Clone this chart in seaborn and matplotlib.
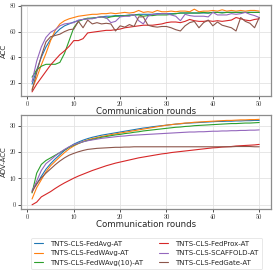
import numpy as np
import pandas as pd
import matplotlib
matplotlib.use("Agg")
import matplotlib.pyplot as plt
import seaborn as sns

rounds = list(range(1, 51))
methods = ["TNTS-CLS-FedAvg-AT", "TNTS-CLS-FedWAvg-AT", "TNTS-CLS-FedWAvg(10)-AT",
           "TNTS-CLS-FedProx-AT", "TNTS-CLS-SCAFFOLD-AT", "TNTS-CLS-FedGate-AT"]
colors = ["#1f77b4", "#ff7f0e", "#2ca02c", "#d62728", "#9467bd", "#8c564b"]

acc_fedavg = [19, 30, 40, 48, 54, 58.5, 62, 64.5, 66, 67.5, 68.5, 69.5, 70, 70.5, 71, 71.5, 72, 72, 72.5, 72.5,
              72.5, 73, 73, 73.5, 73.5, 73.5, 73.5, 74, 74, 74, 74, 74, 74.5, 74.5, 74.5, 74.5, 74.5, 74.5, 74.5, 75,
              75, 75, 75, 75, 75, 75, 75, 75, 75, 75]
acc_fedwavg = [15, 24, 34, 43, 53, 61, 66, 68.5, 70, 71, 72, 72.5, 73, 73.5, 73.5, 74, 74, 74.5, 74, 74.5,
               75, 74.5, 75, 76.5, 75, 75.5, 75, 76.5, 75.5, 75.5, 76, 75.5, 76, 76, 75.5, 77.5, 75.5, 76, 76, 76.5,
               76, 77, 76, 76.5, 76, 76.5, 76, 76.5, 76.5, 76]
acc_fedwavg10 = [24.5, 30, 33, 34.5, 34.5, 34.5, 36, 43, 53, 63, 68, 69.5, 70.5, 70.5, 71, 71.5, 70.5, 71.5, 72, 72,
                 72.5, 72.5, 73, 73, 72, 72.5, 72.5, 73, 73, 73, 73.5, 74, 74.5, 74.5, 74.5, 74.5, 74.5, 75, 74.5, 75,
                 75, 74.5, 75, 75, 75, 75, 75, 75, 75, 75]
acc_fedprox = [13, 19, 24, 29, 34, 38, 42, 45, 48.5, 53, 53, 54.5, 59, 59.5, 60, 60.5, 61, 61, 61.5, 62,
               63, 63.5, 64, 64.5, 65, 65, 65, 65.5, 66, 67, 67.5, 67.5, 67, 68, 69.5, 68.5, 68, 68, 68.5, 68,
               68.5, 68, 68.5, 69, 71, 70, 69, 68.5, 69.5, 70]
acc_scaffold = [21, 37, 48, 55.5, 59.5, 61.5, 64.5, 66, 66.5, 67, 69, 69.5, 70, 70, 71, 71.5, 71, 67, 68, 71.5,
                72, 72, 73.5, 68.5, 66, 72, 73.5, 73.5, 74, 74, 73, 72, 68.5, 73.5, 72.5, 72, 72, 72, 71.5, 75,
                73, 73, 73, 74, 73.5, 74, 75, 73.5, 72.5, 71]
acc_fedgate = [14, 28, 41, 52, 56, 57, 58, 60, 61.5, 62, 68, 63, 69, 66, 67, 66, 66.5, 66, 60.5, 64.5,
               63.5, 65.5, 64, 71.5, 71.5, 65, 64, 63.5, 64, 64, 63, 61.5, 60.5, 64.5, 67, 68, 63, 67, 69, 64.5,
               67.5, 65, 64, 63, 60.5, 71, 68, 66.5, 63, 71]

adv_fedavg = [5.5, 7.8, 10.8, 13.5, 15.6, 17.4, 19, 20.6, 21.9, 23, 23.8, 24.5, 25.1, 25.6, 26, 26.4, 26.7, 27, 27.3, 27.6,
              27.9, 28.2, 28.5, 28.8, 29.1, 29.3, 29.6, 29.8, 30, 30.2, 30.4, 30.6, 30.7, 30.9, 31, 31.1, 31.2, 31.3, 31.4, 31.5,
              31.6, 31.6, 31.7, 31.7, 31.8, 31.8, 31.9, 31.9, 32, 32]
adv_fedwavg = [2.2, 6.5, 9.5, 12.5, 14.8, 16.5, 18.2, 19.8, 21.2, 22.3, 23.2, 24, 24.6, 25.1, 25.5, 25.9, 26.2, 26.6, 26.9, 27.2,
               27.5, 27.8, 28.1, 28.4, 28.7, 29, 29.3, 29.6, 29.9, 30.2, 30.4, 30.6, 30.8, 31, 31.1, 31.3, 31.4, 31.5, 31.6, 31.7,
               31.8, 31.9, 32, 32, 32.1, 32.2, 32.2, 32.3, 32.3, 32.4]
adv_fedwavg10 = [4.5, 12, 15.3, 16.8, 17.8, 18.8, 19.8, 20.8, 21.8, 22.6, 23.3, 23.9, 24.4, 24.8, 25.2, 25.6, 25.9, 26.2, 26.5, 26.7,
                 27, 27.2, 27.5, 27.7, 28, 28.2, 28.4, 28.6, 28.8, 29, 29.2, 29.4, 29.5, 29.7, 29.8, 30, 30.1, 30.2, 30.3, 30.4,
                 30.5, 30.6, 30.7, 30.8, 30.8, 30.9, 31, 31, 31.1, 31.2]
adv_fedprox = [0, 1, 3, 4, 5, 6.2, 7.3, 8.3, 9.2, 10.1, 10.9, 11.6, 12.3, 13, 13.6, 14.2, 14.8, 15.3, 15.8, 16.2,
               16.6, 17, 17.4, 17.8, 18.1, 18.4, 18.7, 19, 19.3, 19.5, 19.8, 20, 20.2, 20.4, 20.6, 20.8, 21, 21.2, 21.4, 21.6,
               21.7, 21.9, 22, 22.1, 22.3, 22.4, 22.5, 22.6, 22.7, 22.9]
adv_scaffold = [5, 9, 13, 15.6, 17, 18.5, 19.8, 21, 22, 22.8, 23.4, 23.9, 24.3, 24.6, 24.9, 25.2, 25.4, 25.6, 25.8, 26,
                26.1, 26.3, 26.4, 26.5, 26.6, 26.7, 26.8, 26.9, 27, 27.1, 27.2, 27.3, 27.4, 27.5, 27.6, 27.6, 27.7, 27.7, 27.8, 27.9,
                27.9, 28, 28, 28.1, 28.1, 28.2, 28.2, 28.3, 28.3, 28.4]
adv_fedgate = [4.8, 8, 10.2, 12, 13.6, 15.2, 16.6, 17.8, 18.8, 19.5, 20.1, 20.6, 21, 21.2, 21.4, 21.5, 21.6, 21.7, 21.8, 21.8,
               21.9, 21.9, 22, 22, 22, 22, 22, 22, 22, 22, 22, 22, 22, 22, 22, 22, 22, 22, 22, 22,
               22, 22, 22, 22, 22.1, 22.1, 22.1, 22.1, 22, 22]

acc_all = [acc_fedavg, acc_fedwavg, acc_fedwavg10, acc_fedprox, acc_scaffold, acc_fedgate]
adv_all = [adv_fedavg, adv_fedwavg, adv_fedwavg10, adv_fedprox, adv_scaffold, adv_fedgate]

rows = []
for m, a, d in zip(methods, acc_all, adv_all):
    for r, va, vd in zip(rounds, a, d):
        rows.append({"round": r, "method": m, "ACC": va, "ADV": vd})
df = pd.DataFrame(rows)

sns.set_theme(style="whitegrid")
plt.rcParams["font.family"] = ["DejaVu Sans"]
plt.rcParams["axes.edgecolor"] = "#8c8c8c"
plt.rcParams["grid.color"] = "#e3e3e3"

fig = plt.figure(figsize=(2.74, 2.74), dpi=100)
ax1 = fig.add_axes([0.0755, 0.6496, 0.912, 0.332])
ax2 = fig.add_axes([0.0755, 0.237, 0.912, 0.343])
pal = dict(zip(methods, colors))

sns.lineplot(data=df, x="round", y="ACC", hue="method", hue_order=methods, palette=pal,
             ax=ax1, linewidth=0.8, legend=False)
sns.lineplot(data=df, x="round", y="ADV", hue="method", hue_order=methods, palette=pal,
             ax=ax2, linewidth=0.8, legend=True)

for ax, yl, ticks in [(ax1, "ACC", [20, 40, 60, 80]), (ax2, "ADV-ACC", [0, 10, 20, 30])]:
    ax.set_ylabel(yl, fontsize=5, labelpad=2)
    ax.set_xlabel("Communication rounds", fontsize=6.2, labelpad=0.5)
    ax.set_xticks([0, 10, 20, 30, 40, 50])
    ax.set_yticks(ticks)
    ax.tick_params(axis="both", labelsize=4.6, length=2, width=0.6, pad=1.5,
                   colors="#333333", labelfontfamily="cmr10", left=True, bottom=True)
    for s in ax.spines.values():
        s.set_linewidth(0.9)
    ax.grid(True, linewidth=0.6)

handles, labels = ax2.get_legend_handles_labels()
ax2.get_legend().remove()
leg = fig.legend(handles, labels, loc="upper center", bbox_to_anchor=(0.535, 0.145), ncol=2,
                 fontsize=5, frameon=True, handlelength=1.3, handletextpad=1.0,
                 columnspacing=2.3, labelspacing=0.5, borderpad=0.45)
leg.get_frame().set_edgecolor("#dddddd")
leg.get_frame().set_linewidth(0.6)
for l in leg.get_lines():
    l.set_linewidth(0.8)

fig.savefig("out.png", dpi=100)
